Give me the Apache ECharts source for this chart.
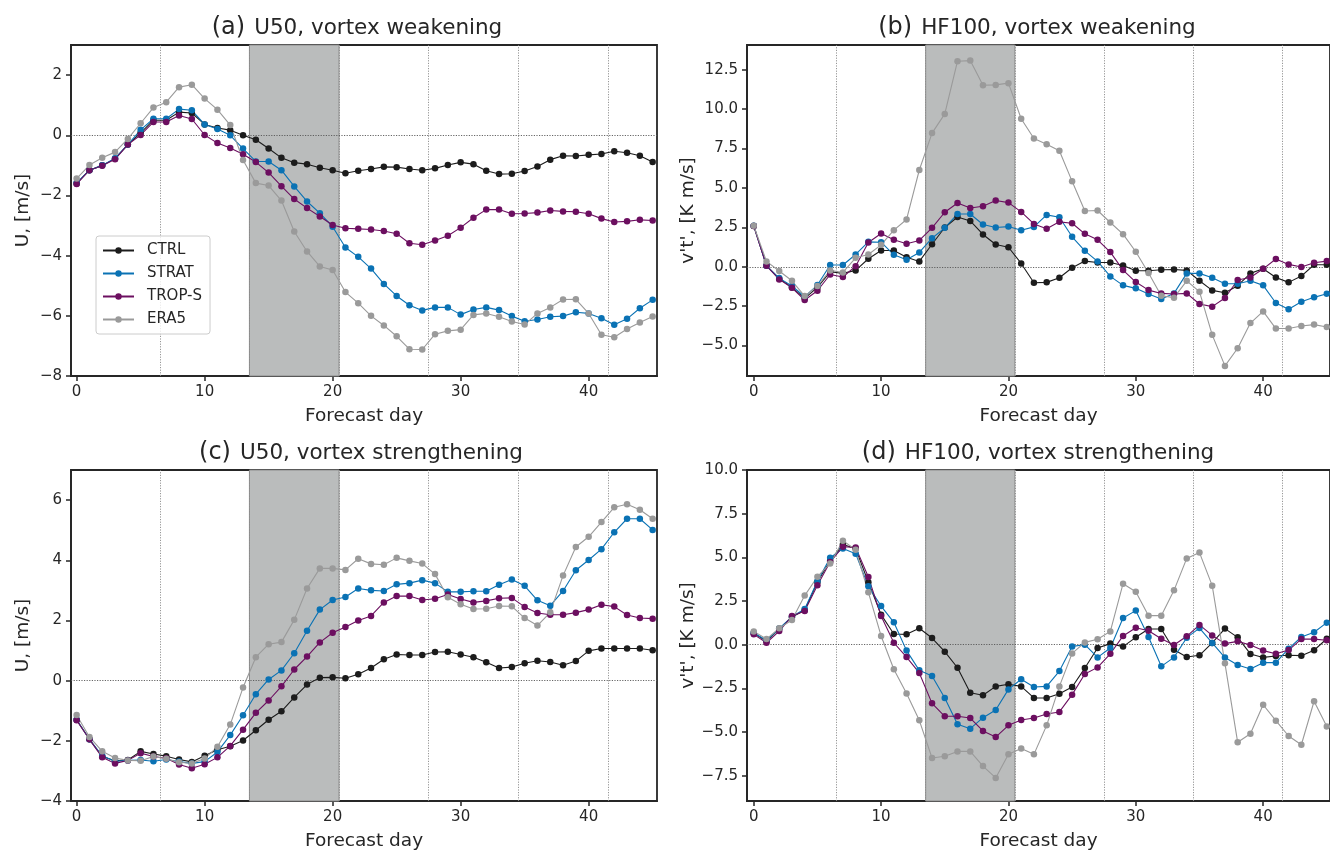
<!DOCTYPE html>
<html>
<head>
<meta charset="utf-8">
<script src="https://cdn.jsdelivr.net/npm/echarts@6/dist/echarts.min.js"></script>
<style>
  html, body { margin: 0; padding: 0; background: #ffffff; }
  #chart { width: 1330px; height: 852px; }
</style>
</head>
<body>
<div id="chart"></div>
<script>
// Forecast days (x values shared by every panel)
const days = [0,1,2,3,4,5,6,7,8,9,10,11,12,13,14,15,16,17,18,19,20,21,22,23,24,25,26,27,28,29,30,31,32,33,34,35,36,37,38,39,40,41,42,43,44,45];

// (a) U50, vortex weakening  [m/s]
const ctrlA  = [-1.60,-1.16,-1.00,-0.78,-0.31,0.08,0.50,0.50,0.77,0.74, 0.36,0.24,0.17,0.00,-0.15,-0.44,-0.75,-0.91,-0.96,-1.08, -1.16,-1.26,-1.18,-1.12,-1.05,-1.06,-1.12,-1.16,-1.10,-0.99, -0.90,-0.96,-1.18,-1.29,-1.28,-1.19,-1.04,-0.81,-0.68,-0.69, -0.65,-0.62,-0.53,-0.58,-0.68,-0.89];
const stratA = [-1.58,-1.16,-1.00,-0.76,-0.31,0.18,0.55,0.55,0.87,0.83, 0.36,0.21,0.00,-0.44,-0.87,-0.87,-1.16,-1.70,-2.20,-2.59, -3.04,-3.73,-4.04,-4.43,-4.94,-5.34,-5.65,-5.82,-5.72,-5.72, -5.96,-5.79,-5.72,-5.81,-6.01,-6.18,-6.12,-6.03,-6.01,-5.88, -5.92,-6.08,-6.30,-6.10,-5.75,-5.47];
const tropA  = [-1.62,-1.16,-1.01,-0.80,-0.31,0.01,0.44,0.44,0.66,0.54, 0.01,-0.26,-0.42,-0.63,-0.89,-1.24,-1.69,-2.12,-2.42,-2.70, -2.98,-3.09,-3.11,-3.13,-3.18,-3.27,-3.59,-3.64,-3.50,-3.34, -3.07,-2.74,-2.47,-2.47,-2.61,-2.60,-2.57,-2.50,-2.53,-2.54, -2.61,-2.77,-2.88,-2.86,-2.81,-2.83];
const era5A  = [-1.44,-0.99,-0.75,-0.56,-0.12,0.40,0.92,1.10,1.60,1.68, 1.22,0.85,0.34,-0.82,-1.59,-1.67,-2.17,-3.20,-3.86,-4.36, -4.48,-5.21,-5.58,-6.00,-6.32,-6.68,-7.11,-7.12,-6.61,-6.50, -6.46,-5.97,-5.92,-6.03,-6.19,-6.29,-5.92,-5.72,-5.46,-5.45, -5.92,-6.63,-6.71,-6.44,-6.22,-6.02];

// (b) HF100, vortex weakening  [K m/s]
const ctrlB  = [2.59,0.08,-0.76,-1.31,-2.00,-1.31,-0.32,-0.42,-0.23,0.51, 1.03,1.03,0.61,0.34,1.43,2.49,3.16,2.91,2.05,1.41, 1.24,0.21,-1.01,-0.99,-0.70,-0.06,0.36,0.27,0.27,0.08, -0.25,-0.25,-0.19,-0.17,-0.23,-0.89,-1.50,-1.65,-1.20,-0.42, -0.13,-0.68,-0.99,-0.59,0.13,0.13];
const stratB = [2.60,0.06,-0.72,-1.22,-1.90,-1.16,0.11,0.11,0.78,1.58, 1.56,0.76,0.44,0.91,1.81,2.47,3.35,3.35,2.68,2.49, 2.55,2.32,2.53,3.29,3.14,1.90,1.01,0.34,-0.61,-1.18, -1.37,-1.73,-2.05,-1.69,-0.42,-0.42,-0.70,-1.08,-1.08,-0.89, -1.18,-2.30,-2.70,-2.22,-1.94,-1.71];
const tropB  = [2.58,0.06,-0.80,-1.33,-2.11,-1.52,-0.49,-0.65,0.04,1.54, 2.11,1.71,1.46,1.67,2.47,3.46,4.05,3.73,3.84,4.20, 4.07,3.48,2.72,2.41,2.85,2.76,2.09,1.71,0.93,-0.21, -0.97,-1.48,-1.69,-1.73,-1.69,-2.36,-2.53,-1.98,-0.84,-0.68, -0.13,0.49,0.15,-0.02,0.25,0.36];
const era5B  = [2.60,0.34,-0.27,-0.89,-1.86,-1.22,-0.23,-0.36,0.57,0.78, 1.39,2.32,3.00,6.14,8.48,9.70,13.04,13.08,11.52,11.54, 11.65,9.39,8.14,7.78,7.36,5.42,3.54,3.57,2.81,2.07, 0.95,-0.40,-1.84,-1.96,-0.89,-1.58,-4.32,-6.29,-5.17,-3.57, -2.83,-3.92,-3.92,-3.76,-3.67,-3.82];

// (c) U50, vortex strengthening  [m/s]
const ctrlC  = [-1.30,-1.95,-2.52,-2.66,-2.64,-2.35,-2.44,-2.51,-2.62,-2.70, -2.50,-2.30,-2.18,-1.99,-1.65,-1.30,-1.02,-0.56,-0.13,0.10, 0.11,0.08,0.21,0.42,0.71,0.87,0.85,0.85,0.95,0.96, 0.87,0.78,0.61,0.42,0.45,0.58,0.66,0.62,0.51,0.65, 0.99,1.07,1.07,1.07,1.07,1.01];
const stratC = [-1.30,-1.95,-2.50,-2.68,-2.65,-2.64,-2.68,-2.62,-2.69,-2.75, -2.69,-2.37,-1.81,-1.15,-0.45,0.04,0.34,0.91,1.66,2.36, 2.68,2.78,3.06,3.00,2.98,3.20,3.24,3.34,3.24,2.95, 2.95,2.97,2.97,3.19,3.36,3.15,2.67,2.49,2.98,3.67, 4.01,4.37,4.93,5.38,5.38,5.01];
const tropC  = [-1.32,-1.95,-2.55,-2.75,-2.65,-2.41,-2.52,-2.58,-2.79,-2.91, -2.78,-2.55,-2.17,-1.63,-1.07,-0.66,-0.19,0.37,0.80,1.27, 1.59,1.78,2.00,2.15,2.60,2.81,2.81,2.68,2.72,2.86, 2.71,2.60,2.65,2.74,2.75,2.45,2.25,2.19,2.19,2.26, 2.36,2.52,2.46,2.18,2.08,2.06];
const era5C  = [-1.14,-1.87,-2.35,-2.57,-2.65,-2.66,-2.52,-2.60,-2.71,-2.75, -2.59,-2.20,-1.46,-0.23,0.78,1.21,1.28,2.02,3.06,3.73, 3.73,3.68,4.05,3.88,3.85,4.08,3.98,3.89,3.54,2.77, 2.54,2.38,2.39,2.48,2.47,2.08,1.83,2.27,3.49,4.44, 4.78,5.27,5.76,5.86,5.68,5.38];

// (d) HF100, vortex strengthening  [K m/s]
const ctrlD  = [0.67,0.19,0.91,1.58,1.97,3.59,4.81,5.73,5.50,3.57, 1.72,0.61,0.59,0.94,0.38,-0.40,-1.32,-2.75,-2.90,-2.39, -2.27,-2.39,-3.05,-3.05,-2.81,-2.42,-1.34,-0.19,0.06,-0.11, 0.42,0.90,0.90,-0.29,-0.71,-0.61,0.10,0.92,0.42,-0.53, -0.73,-0.65,-0.61,-0.63,-0.32,0.34];
const stratD = [0.67,0.25,0.92,1.60,2.04,3.63,4.98,5.50,5.21,3.34, 2.21,1.28,-0.34,-1.47,-1.79,-3.05,-4.56,-4.81,-4.18,-3.74, -2.56,-1.98,-2.42,-2.39,-1.51,-0.10,0.00,-0.73,-0.19,1.53, 1.95,0.44,-1.24,-0.73,0.40,0.95,0.10,-0.74,-1.16,-1.39, -1.03,-1.03,-0.23,0.44,0.71,1.26];
const tropD  = [0.59,0.11,0.78,1.64,1.93,3.40,4.73,5.61,5.57,3.87, 1.64,0.11,-0.71,-1.62,-3.36,-4.10,-4.10,-4.20,-4.94,-5.29, -4.62,-4.31,-4.20,-3.97,-3.85,-2.86,-1.68,-1.30,-0.52,0.50, 0.97,0.80,0.34,-0.02,0.48,1.13,0.53,0.06,0.19,-0.02, -0.34,-0.52,-0.31,0.32,0.32,0.25];
const era5D  = [0.76,0.32,0.94,1.41,2.81,3.89,4.64,5.95,5.44,3.00, 0.50,-1.41,-2.79,-4.33,-6.49,-6.39,-6.11,-6.11,-6.95,-7.63, -6.28,-5.94,-6.28,-4.62,-2.39,-0.50,0.13,0.31,0.76,3.49, 3.03,1.66,1.66,3.11,4.94,5.27,3.38,-1.07,-5.59,-5.10, -3.44,-4.35,-5.23,-5.73,-3.24,-4.68];

// Tick values
const dayTicks = [0, 10, 20, 30, 40];
const uTicksA  = [-8, -6, -4, -2, 0, 2];
const uTicksC  = [-4, -2, 0, 2, 4, 6];
const hfTicksB = [-5, -2.5, 0, 2.5, 5, 7.5, 10, 12.5];
const hfTicksD = [-7.5, -5, -2.5, 0, 2.5, 5, 7.5, 10];

// Week boundaries (dotted) and the highlighted window
const weekMarks = [6.5, 13.5, 20.5, 27.5, 34.5, 41.5];
const windowSpan = [13.5, 20.5];

const runNames = ['CTRL', 'STRAT', 'TROP-S', 'ERA5'];
const runColors = ['#1c1c1c', '#0a72b4', '#6c0f60', '#9a9a9a'];

const FONT = 'DejaVu Sans';
const INK = '#262626';

const panels = [
  { tag: '(a)', title: 'U50, vortex weakening',     yName: 'U, [m/s]',      runs: [ctrlA, stratA, tropA, era5A],
    grid: { left: 71, top: 45, width: 586, height: 331 }, xMin: -0.44, xMax: 45.34, yMin: -8, yMax: 3,
    yTicks: uTicksA, dec: 0, titleX: 357, titleY: 28, nameGap: 38 },
  { tag: '(b)', title: 'HF100, vortex weakening',   yName: "v't', [K m/s]", runs: [ctrlB, stratB, tropB, era5B],
    grid: { left: 747, top: 45, width: 586, height: 331 }, xMin: -0.53, xMax: 45.25, yMin: -6.93, yMax: 14.07,
    yTicks: hfTicksB, dec: 1, titleX: 1037, titleY: 28, nameGap: 47 },
  { tag: '(c)', title: 'U50, vortex strengthening', yName: 'U, [m/s]',      runs: [ctrlC, stratC, tropC, era5C],
    grid: { left: 71, top: 470, width: 586, height: 331 }, xMin: -0.44, xMax: 45.34, yMin: -4, yMax: 7,
    yTicks: uTicksC, dec: 0, titleX: 361, titleY: 453, nameGap: 38 },
  { tag: '(d)', title: 'HF100, vortex strengthening', yName: "v't', [K m/s]", runs: [ctrlD, stratD, tropD, era5D],
    grid: { left: 747, top: 470, width: 586, height: 331 }, xMin: -0.53, xMax: 45.25, yMin: -8.95, yMax: 10,
    yTicks: hfTicksD, dec: 1, titleX: 1038, titleY: 453, nameGap: 47 }
];

function fmt(v, dec) {
  const s = Math.abs(v).toFixed(dec);
  return v < 0 ? '\u2212' + s : s;
}

const grids = [], xAxes = [], yAxes = [], series = [], graphics = [];

panels.forEach((p, i) => {
  grids.push(Object.assign({ show: true, borderColor: INK, borderWidth: 1.8, backgroundColor: 'transparent' }, p.grid));

  xAxes.push({
    type: 'value', gridIndex: i, min: p.xMin, max: p.xMax,
    axisLine: { show: true, onZero: false, lineStyle: { color: INK, width: 1.8 } },
    axisTick: { show: true, length: 5, customValues: dayTicks, lineStyle: { color: INK, width: 1.5 } },
    axisLabel: { customValues: dayTicks, fontSize: 15, fontFamily: FONT, color: INK, margin: 9 },
    splitLine: { show: false },
    name: 'Forecast day', nameLocation: 'middle', nameGap: 31,
    nameTextStyle: { fontSize: 18.5, fontFamily: FONT, color: INK }
  });

  yAxes.push({
    type: 'value', gridIndex: i, min: p.yMin, max: p.yMax,
    axisLine: { show: true, onZero: false, lineStyle: { color: INK, width: 1.8 } },
    axisTick: { show: true, length: 5, customValues: p.yTicks, lineStyle: { color: INK, width: 1.5 } },
    axisLabel: { customValues: p.yTicks, fontSize: 15, fontFamily: FONT, color: INK, margin: 9,
                 formatter: (v) => fmt(v, p.dec) },
    splitLine: { show: false },
    name: p.yName, nameLocation: 'middle', nameRotate: 90, nameGap: p.nameGap,
    nameTextStyle: { fontSize: 18.5, fontFamily: FONT, color: INK }
  });

  // shaded window, week boundaries and zero line
  series.push({
    type: 'line', xAxisIndex: i, yAxisIndex: i, data: [], silent: true, z: 1,
    markArea: {
      silent: true, z: 1,
      itemStyle: { color: '#babcbc', borderColor: '#8c8c8c', borderWidth: 1 },
      data: [[{ xAxis: windowSpan[0] }, { xAxis: windowSpan[1] }]]
    },
    markLine: {
      silent: true, z: 1, symbol: ['none', 'none'], label: { show: false },
      lineStyle: { type: [1.2, 1.4], color: '#8a8a8a', width: 0.9 },
      emphasis: { disabled: true },
      data: weekMarks.map(x => ({ xAxis: x }))
        .concat([{ yAxis: 0, lineStyle: { type: [1.2, 1.4], color: '#555555', width: 0.9 } }])
    }
  });

  p.runs.forEach((vals, k) => {
    series.push({
      type: 'line', name: runNames[k], xAxisIndex: i, yAxisIndex: i, z: 3,
      data: days.map((d, j) => [d, vals[j]]),
      symbol: 'circle', symbolSize: 6.5, showSymbol: true, showAllSymbol: true,
      lineStyle: { color: runColors[k], width: 1.1 },
      itemStyle: { color: runColors[k] },
      emphasis: { disabled: true }
    });
  });

  graphics.push({
    type: 'text', x: p.titleX, y: p.titleY, silent: true,
    style: {
      text: '{p|' + p.tag + '}{t|' + p.title + '}',
      align: 'center', verticalAlign: 'middle', fill: INK,
      rich: {
        p: { fontSize: 24, fontFamily: FONT, fill: INK, padding: [0, 9, 0, 0] },
        t: { fontSize: 21.5, fontFamily: FONT, fill: INK }
      }
    }
  });
});

const chart = echarts.init(document.getElementById('chart'), null, { renderer: 'canvas' });
chart.setOption({
  animation: false,
  backgroundColor: '#ffffff',
  textStyle: { fontFamily: FONT },
  grid: grids,
  xAxis: xAxes,
  yAxis: yAxes,
  series: series,
  graphic: graphics,
  legend: {
    data: runNames, left: 96, top: 236, orient: 'vertical',
    itemWidth: 31, itemHeight: 8, itemGap: 6,
    padding: [6, 8, 6, 6],
    backgroundColor: 'rgba(255,255,255,0.8)', borderColor: '#cccccc', borderWidth: 1, borderRadius: 3,
    textStyle: { fontSize: 15, fontFamily: FONT, color: INK, lineHeight: 17, padding: [0, 0, 0, 8] },
    selectedMode: false
  }
});
</script>
</body>
</html>
